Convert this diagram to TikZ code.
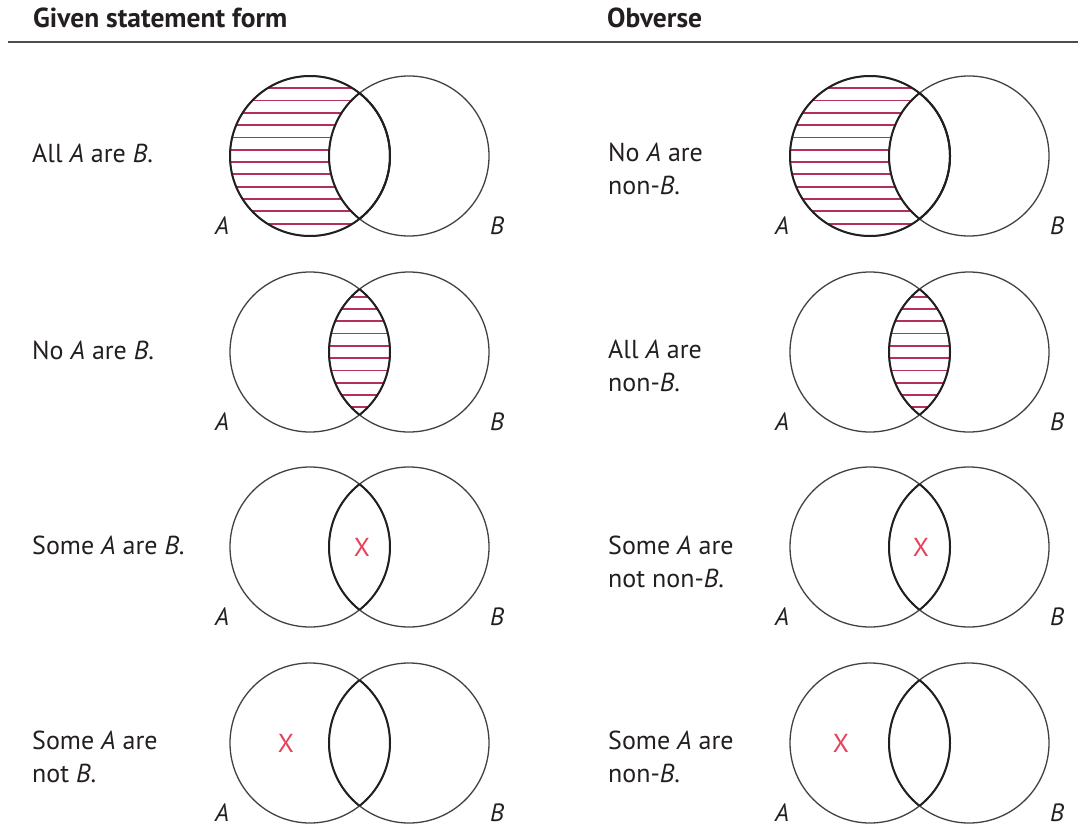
\documentclass[tikz,border=0pt]{standalone}
\usepackage{fontspec}
\setmainfont{PT Sans}
\definecolor{ink}{HTML}{231F20}
\definecolor{hatch}{HTML}{B3305C}
\definecolor{xred}{HTML}{E8405A}
\newcommand\twolines[2]{\begin{tabular}[t]{@{}l@{}}#1\\#2\end{tabular}}
\newcommand\hatchlines[1]{\foreach \k in {0,...,13}{\draw[hatchline] (150,{#1-67.7+12.3*\k}) -- (1078,{#1-67.7+12.3*\k});}}
% #1 xA, #2 xB, #3 y
\newcommand\vennbase[3]{%
  \draw[circ] (#1,#3) circle[radius=80pt];
  \draw[circ] (#2,#3) circle[radius=80pt];
  \begin{scope}\clip (#1,#3) circle[radius=80pt]; \draw[boldline] (#2,#3) circle[radius=80pt];\end{scope}
  \begin{scope}\clip (#2,#3) circle[radius=80pt]; \draw[boldline] (#1,#3) circle[radius=80pt];\end{scope}
}
\newcommand\hatchAonly[3]{%
  \begin{scope}[even odd rule]
    \clip (#1,#3) circle[radius=80pt];
    \clip (0,0) rectangle (1078,829) (#2,#3) circle[radius=80pt];
    \hatchlines{#3}
  \end{scope}}
\newcommand\hatchLens[3]{%
  \begin{scope}
    \clip (#1,#3) circle[radius=80pt];
    \clip (#2,#3) circle[radius=80pt];
    \hatchlines{#3}
  \end{scope}}
\newcommand\ablabels[4]{% xA-label, xB-label, y, name prefix
  \node[lab] (#4a) at (#1,#3) {A};
  \node[lab] (#4b) at (#2,#3) {B};}
\begin{document}
\begin{tikzpicture}[x=1pt,y=-1pt,
  circ/.style={draw=ink!85, line width=1.3pt},
  boldline/.style={draw=ink, line width=2.0pt},
  hatchline/.style={draw=hatch, line width=1.8pt},
  txt/.style={anchor=base west, font=\fontsize{26}{33}\selectfont, text=ink, inner sep=0pt},
  head/.style={anchor=base west, font=\bfseries\fontsize{27.5}{27.5}\selectfont, text=ink, inner sep=0pt},
  lab/.style={font=\fontsize{25}{25}\selectfont\itshape, text=ink, inner sep=0pt},
  xmark/.style={font=\fontsize{26}{26}\selectfont, text=xred, inner sep=0pt}]
\useasboundingbox (0,0) rectangle (1078,829);
\fill[white] (0,0) rectangle (1078,829);

% header
\node[head] (h1) at (33,28) {Given statement form};
\node[head] (h2) at (607,28) {Obverse};
\draw[line width=2pt, ink!80] (8,42.5) -- (1078,42.5);

% row 1
\hatchAonly{310}{409}{156}
\hatchAonly{870}{969}{156}
\vennbase{310}{409}{156}
\vennbase{870}{969}{156}
\draw[boldline] (310,156) circle[radius=80pt];
\draw[boldline] (870,156) circle[radius=80pt];
\node[txt] (t1) at (32,163) {All \textit{A} are \textit{B}.};
\node[txt] (o1) at (608,162) {\twolines{No \textit{A} are}{non-\textit{B}.}};
\ablabels{222}{497}{226}{l1}
\ablabels{782}{1057}{226}{r1}

% row 2
\hatchLens{310}{409}{352}
\hatchLens{870}{969}{352}
\vennbase{310}{409}{352}
\vennbase{870}{969}{352}
\node[txt] (t2) at (32,359) {No \textit{A} are \textit{B}.};
\node[txt] (o2) at (608,358) {\twolines{All \textit{A} are}{non-\textit{B}.}};
\ablabels{222}{497}{422}{l2}
\ablabels{782}{1057}{422}{r2}

% row 3
\vennbase{310}{409}{547}
\vennbase{870}{969}{547}
\node[xmark] (x3l) at (362,547) {X};
\node[xmark] (x3r) at (921,547) {X};
\node[txt] (t3) at (32,554) {Some \textit{A} are \textit{B}.};
\node[txt] (o3) at (608,554) {\twolines{Some \textit{A} are}{not non-\textit{B}.}};
\ablabels{222}{497}{617}{l3}
\ablabels{782}{1057}{617}{r3}

% row 4
\vennbase{310}{409}{743}
\vennbase{870}{969}{743}
\node[xmark] (x4l) at (286,743) {X};
\node[xmark] (x4r) at (841,743) {X};
\node[txt] (t4) at (32,749) {\twolines{Some \textit{A} are}{not \textit{B}.}};
\node[txt] (o4) at (608,749) {\twolines{Some \textit{A} are}{non-\textit{B}.}};
\ablabels{222}{497}{813}{l4}
\ablabels{782}{1057}{813}{r4}
\end{tikzpicture}
\end{document}
